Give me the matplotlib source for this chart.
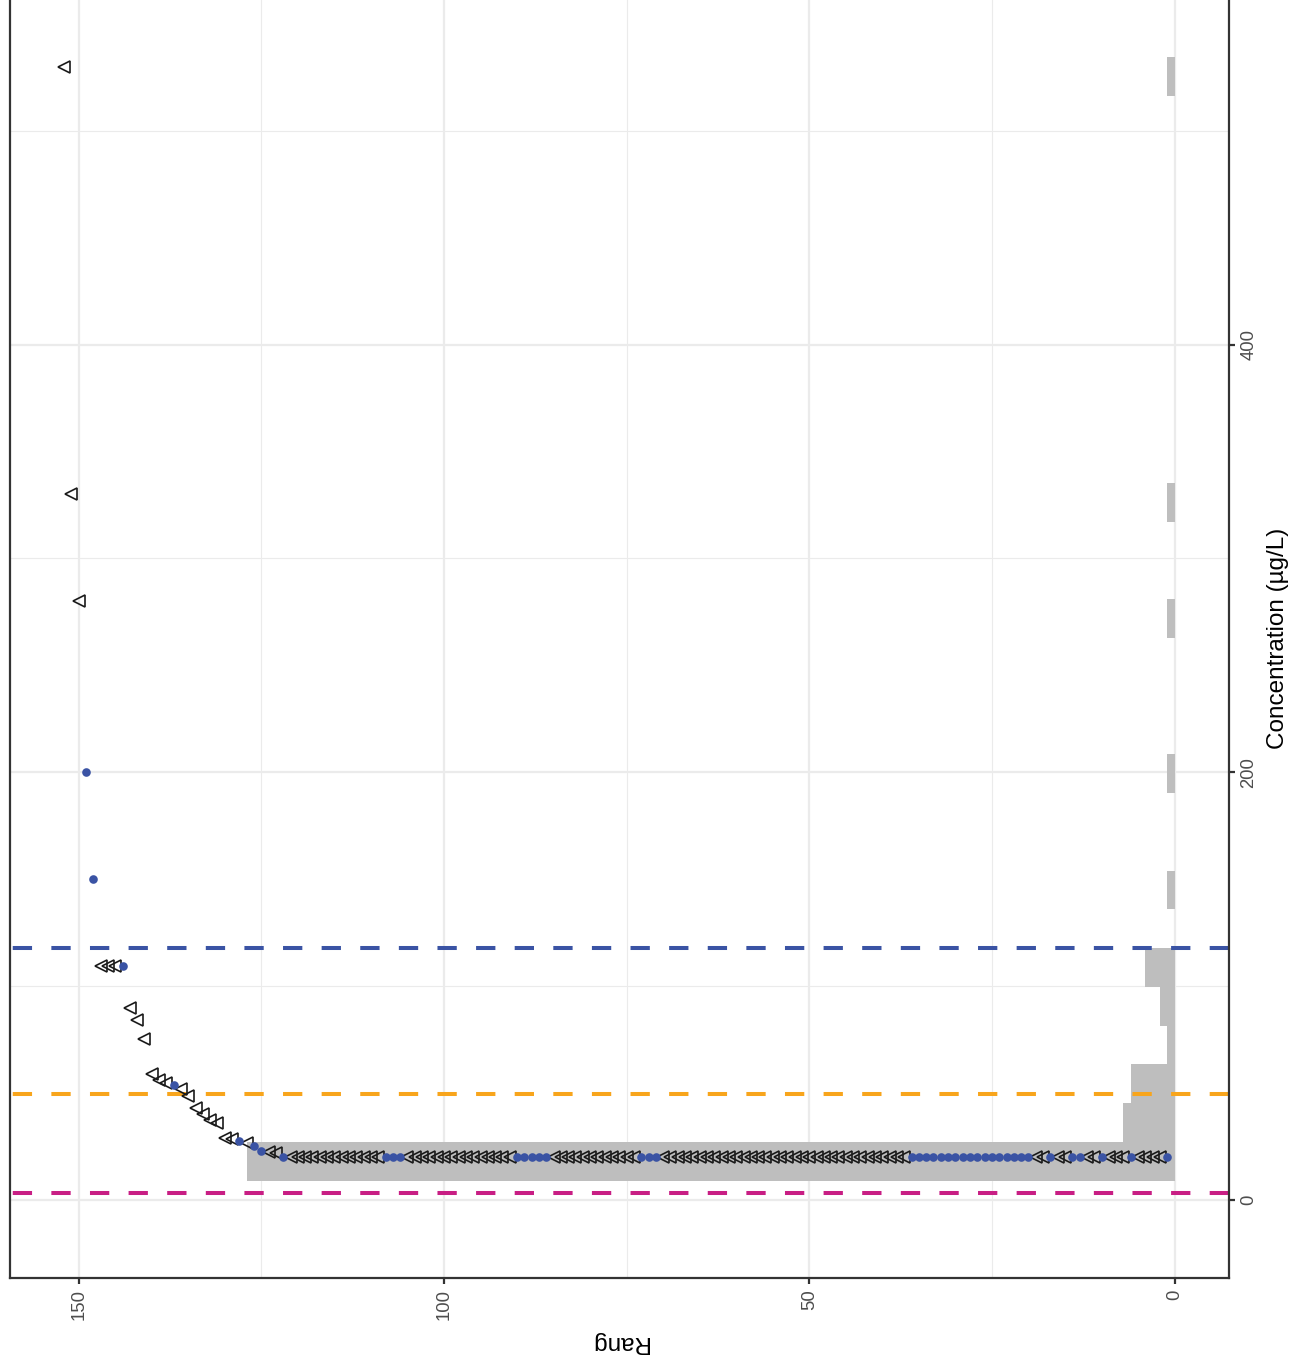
import numpy as np
import matplotlib
matplotlib.use("Agg")
import matplotlib.pyplot as plt

plt.rcParams['font.family'] = ['Liberation Sans', 'DejaVu Sans']
plt.rcParams['lines.scale_dashes'] = False

# ---------------- data ----------------
# concentration (µg/L) of each sample, sorted -> rank = position
conc = [20.0] * 122 + [
    22.0, 22.5, 23.0, 25.0, 26.5, 27.7, 28.3, 29.0, 35.9, 37.6,
    40.2, 42.9, 48.7, 51.9, 53.8, 54.8, 56.3, 58.7, 75.5, 84.0,
    89.7, 109.6, 109.6, 109.6, 109.6, 150.0, 200.0, 280.0, 330.0, 530.0,
]
# D = quantified value (filled circle), C = censored "<" value (open triangle)
status = (
    "DCCCCDCCCDCCDDCCDCCDDDDDDDDDDDDDDDDD"      # ranks 1-36
    "CCCCCCCCCCCCCCCCCCCCCCCCCCCCCCCCCC"        # ranks 37-70
    "DDDCCCCCCCCCCCCDDDDD"                      # ranks 71-90
    "CCCCCCCCCCCCCCCDDDCCCCCCCCCCCCCD"          # ranks 91-122
    "CCDDCDCCCCCCCCDCCCCCCDCCCDDCCC"            # ranks 123-152
)
rang = np.arange(1, len(conc) + 1)

# reference lines (µg/L)
line_values = [3.1, 49.7, 117.7]
line_colors = ['#C81E84', '#F8A51C', '#3A53A4']

rank_ticks = [0, 50, 100, 150]
conc_ticks = [0, 200, 400]

# ---------------- figure ----------------
W, H = 1294, 1366
fig = plt.figure(figsize=(W / 100, H / 100), dpi=100)
ax = fig.add_axes([10 / W, (H - 1278) / H, (1229 - 10) / W, 1279.6 / H])

conc_arr = np.array(conc)
stat_arr = np.array(list(status))

# histogram of concentrations (counts on the rank axis)
binw = 18.12
edges = (np.arange(0, 31) - 0.5) * binw
ax.hist(conc_arr, bins=edges, orientation='horizontal', color='#BEBEBE',
        zorder=1)

# dashed reference lines
for v, c in zip(line_values, line_colors):
    ax.plot([-7.45, 159.4], [v, v], color=c, lw=2.9, dashes=(13.9, 13.9),
            solid_capstyle='butt', dash_capstyle='butt', zorder=2)

# points
cens = stat_arr == 'C'
det = stat_arr == 'D'
ax.plot(rang[cens], conc_arr[cens], ls='none', marker='<', ms=8.8,
        mfc='none', mec='#1a1a1a', mew=1.2, zorder=3)
ax.plot(rang[det], conc_arr[det], ls='none', marker='o', ms=6.2,
        mfc='#3A53A4', mec='#3A53A4', mew=0, zorder=4)

ax.set_xlim(159.4, -7.45)
ax.set_ylim(-36.5, 561.9)

# grid
ax.set_xticks(rank_ticks)
ax.set_xticks([25, 75, 125], minor=True)
ax.set_yticks(conc_ticks)
ax.set_yticks([100, 300, 500], minor=True)
ax.grid(True, which='major', color='#EBEBEB', lw=1.6, zorder=0)
ax.grid(True, which='minor', color='#EBEBEB', lw=0.8, zorder=0)
ax.set_axisbelow(True)

for s in ax.spines.values():
    s.set_color('#333333')
    s.set_linewidth(1.6)

ax.yaxis.tick_right()
ax.yaxis.set_label_position('right')
ax.tick_params(which='major', length=4.1, width=1.6, color='#333333',
               labelsize=13.3, labelcolor='#4D4D4D', pad=4)
ax.tick_params(which='minor', length=0)
ax.tick_params(axis='x', labelrotation=90)
ax.tick_params(axis='y', labelrotation=90)
for lab in ax.get_yticklabels():
    lab.set_va('center')
    lab.set_ha('left')

ax.set_xlabel('Rang', fontsize=17.5, rotation=180, labelpad=8)
ax.set_ylabel('Concentration (µg/L)', fontsize=17.5, rotation=90, labelpad=7)

fig.savefig('out.png', dpi=100, facecolor='white')
